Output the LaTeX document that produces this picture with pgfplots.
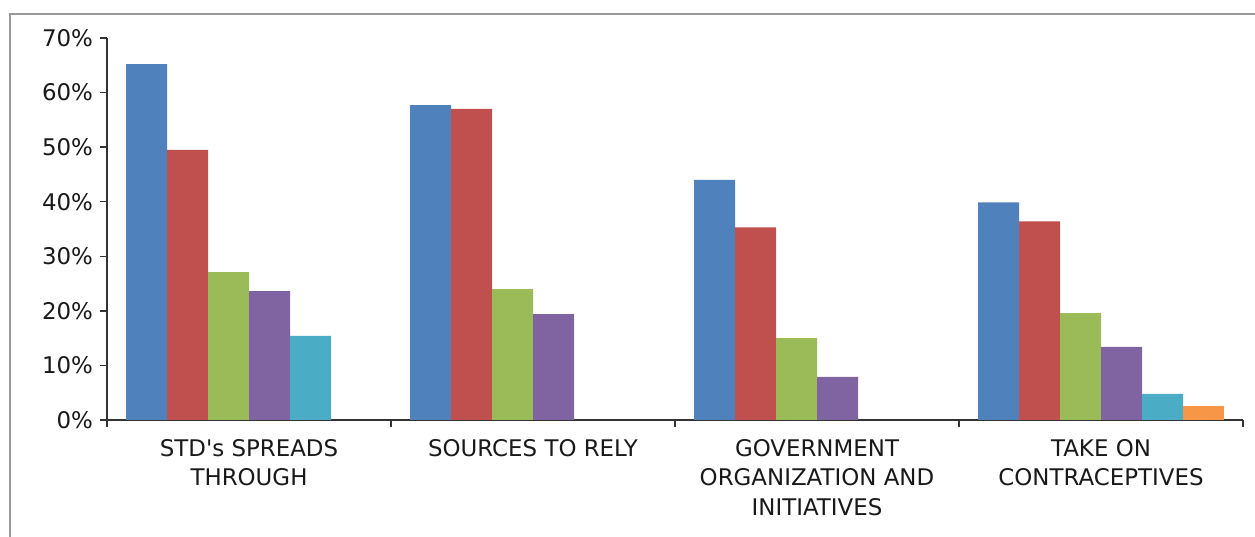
\documentclass[border=0pt]{standalone}
\usepackage{pgfplots}
\pgfplotsset{compat=1.18}
\usepackage{fontspec}
\setmainfont{DejaVu Sans}
\definecolor{c1}{HTML}{4F81BD}
\definecolor{c2}{HTML}{C0504D}
\definecolor{c3}{HTML}{9BBB59}
\definecolor{c4}{HTML}{8064A2}
\definecolor{c5}{HTML}{4BACC6}
\definecolor{c6}{HTML}{F79646}
\begin{document}
\begin{tikzpicture}
\useasboundingbox (0,0) rectangle (627.5bp,268.5bp);
\draw[black!40, line width=1bp] (5bp,0) -- (5bp,261.5bp) -- (627.5bp,261.5bp);
\begin{axis}[
  at={(53.5bp,58.5bp)}, anchor=south west,
  scale only axis, width=568bp, height=191bp,
  ybar=0pt, bar width=20.5bp,
  ymin=0, ymax=70, xmin=-0.5, xmax=3.5,
  axis x line*=bottom, axis y line*=left,
  ytick={0,10,...,70},
  yticklabel={\pgfmathparse{int(\tick)}\pgfmathresult\%},
  xtick={0,1,2,3},
  xticklabels={{STD\textquotesingle s SPREADS\\THROUGH},{SOURCES TO RELY},{GOVERNMENT\\ORGANIZATION AND\\INITIATIVES},{TAKE ON\\CONTRACEPTIVES}},
  major x tick style={draw=none},
  minor xtick={-0.5,0.5,1.5,2.5,3.5},
  tick align=outside,
  major tick length=3.5bp, minor tick length=3.5bp,
  tick style={black!80, line width=0.75bp},
  axis line style={black!80, line width=0.75bp},
  ticklabel style={font=\fontsize{11.5}{15}\selectfont, text=black!90},
  xticklabel style={align=center, anchor=north, yshift=-2.5bp},
  every axis plot/.append style={draw=none},
]
\addplot[fill=c1] coordinates {(0,65.2) (1,57.7) (2,44.0) (3,39.9)};
\addplot[fill=c2] coordinates {(0,49.5) (1,57.0) (2,35.3) (3,36.4)};
\addplot[fill=c3] coordinates {(0,27.1) (1,24.0) (2,15.0) (3,19.6)};
\addplot[fill=c4] coordinates {(0,23.6) (1,19.4) (2,7.9) (3,13.4)};
\addplot[fill=c5] coordinates {(0,15.4) (3,4.8)};
\addplot[fill=c6] coordinates {(3,2.6)};
\end{axis}
\end{tikzpicture}
\end{document}
